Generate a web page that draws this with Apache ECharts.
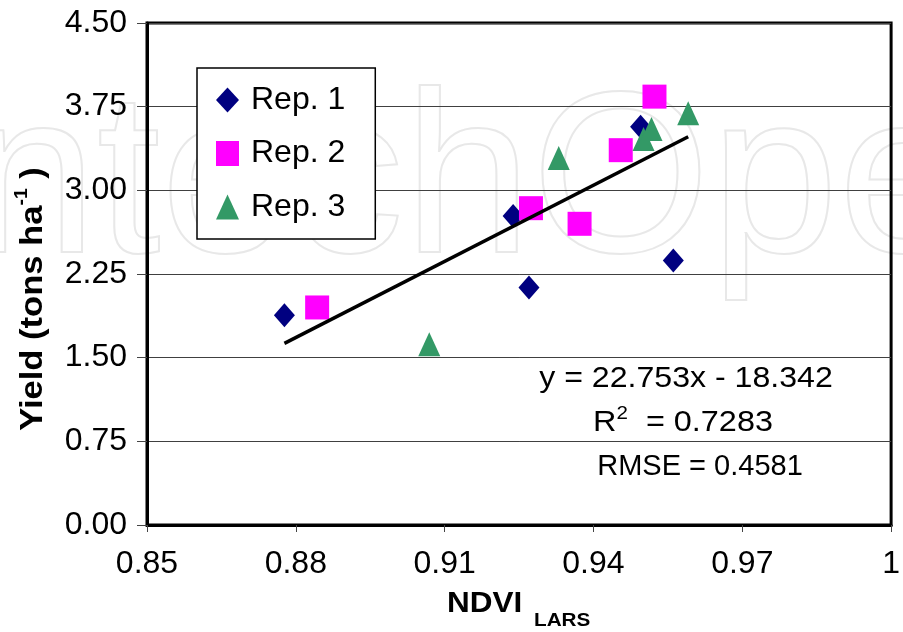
<!DOCTYPE html>
<html>
<head>
<meta charset="utf-8">
<script src="https://cdn.jsdelivr.net/npm/echarts@6/dist/echarts.min.js"></script>
<style>
html,body{margin:0;padding:0;background:#fff;}
#chart{width:903px;height:632px;}
</style>
</head>
<body>
<div id="chart"></div>
<script>
// ---- data ----
const rep1X = [0.8777, 0.9238, 0.9270, 0.9495, 0.9561];
const rep1Y = [1.88, 2.77, 2.13, 3.57, 2.37];
const rep2X = [0.8843, 0.9274, 0.9372, 0.9455, 0.9523];
const rep2Y = [1.95, 2.84, 2.70, 3.36, 3.84];
const rep3X = [0.9069, 0.9330, 0.9501, 0.9517, 0.9591];
const rep3Y = [1.62, 3.29, 3.46, 3.55, 3.69];
const seriesNames = ['Rep. 1', 'Rep. 2', 'Rep. 3'];
const fitSlope = 22.753;
const fitIntercept = -18.342;
const xTicks = [0.85, 0.88, 0.91, 0.94, 0.97, 1];
const yTicks = [0, 0.75, 1.5, 2.25, 3, 3.75, 4.5];
const eqText = 'y = 22.753x - 18.342';
const r2Value = '0.7283';
const rmseText = 'RMSE = 0.4581';
const watermarkText = 'IntechOpen';

const FONT = '"Liberation Sans", Arial, Helvetica, sans-serif';
const pair = (xs, ys) => xs.map((x, i) => [x, ys[i]]);
const allX = rep1X.concat(rep2X, rep3X);
const xMin = Math.min(...allX), xMax = Math.max(...allX);
const fitData = [[xMin, fitSlope * xMin + fitIntercept], [xMax, fitSlope * xMax + fitIntercept]];

const chart = echarts.init(document.getElementById('chart'), null, {renderer: 'canvas'});
chart.setOption({
  backgroundColor: '#ffffff',
  animation: false,
  textStyle: {fontFamily: FONT},
  grid: {left: 147, right: 4, top: 23, bottom: 107, show: true, borderColor: '#000', borderWidth: 3, backgroundColor: 'transparent'},
  legend: {
    orient: 'vertical', left: 197, top: 68,
    data: seriesNames,
    itemWidth: 23, itemHeight: 25, itemGap: 21.5,
    padding: [16, 30, 16, 19],
    backgroundColor: '#fff', borderColor: '#000', borderWidth: 1.5, borderRadius: 0,
    textStyle: {fontFamily: FONT, fontSize: 32, color: '#000', lineHeight: 25, padding: [0, 0, 0, 7]}
  },
  xAxis: {
    type: 'value', min: xTicks[0], max: xTicks[xTicks.length - 1],
    axisLine: {show: true, lineStyle: {color: '#000', width: 3}},
    axisTick: {show: true, length: 7, customValues: xTicks, lineStyle: {color: '#444', width: 1}},
    axisLabel: {customValues: xTicks, margin: 23, fontSize: 32, color: '#000', fontFamily: FONT,
      formatter: v => String(Number(v.toFixed(2)))},
    splitLine: {show: false}
  },
  yAxis: {
    type: 'value', min: yTicks[0], max: yTicks[yTicks.length - 1], interval: 0.75,
    axisLine: {show: true, lineStyle: {color: '#000', width: 3}},
    axisTick: {show: true, length: 10, lineStyle: {color: '#444', width: 1}},
    axisLabel: {margin: 20, fontSize: 32, color: '#000', fontFamily: FONT, formatter: v => v.toFixed(2)},
    splitLine: {show: true, lineStyle: {color: '#404040', width: 1}}
  },
  series: [
    {name: seriesNames[0], type: 'scatter', symbol: 'diamond', symbolSize: [21, 24], z: 3,
      itemStyle: {color: '#000080', opacity: 1}, data: pair(rep1X, rep1Y)},
    {name: seriesNames[1], type: 'scatter', symbol: 'rect', symbolSize: [24, 24], z: 3,
      itemStyle: {color: '#FF00FF', opacity: 1}, data: pair(rep2X, rep2Y)},
    {name: seriesNames[2], type: 'scatter', symbol: 'triangle', symbolSize: [22, 24], z: 3,
      itemStyle: {color: '#339966', opacity: 1}, data: pair(rep3X, rep3Y)},
    {name: 'fit', type: 'line', data: fitData, symbol: 'none', z: 4, silent: true,
      lineStyle: {color: '#000', width: 3.5}}
  ],
  graphic: [
    {type: 'text', silent: true, z: -1, zlevel: 0, x: -95, y: 304,
      style: {text: watermarkText, font: '230px ' + FONT, fill: 'none', stroke: '#e8e8e8', lineWidth: 2,
        align: 'left', verticalAlign: 'bottom', textAlign: 'left', textVerticalAlign: 'bottom'}},
    {type: 'text', silent: true, z: 10, x: 686, y: 379, scaleX: 1.07,
      style: {text: eqText, font: '30px ' + FONT, fill: '#000', align: 'center', verticalAlign: 'middle', textAlign: 'center', textVerticalAlign: 'middle'}},
    {type: 'text', silent: true, z: 10, x: 683, y: 421, scaleX: 1.08,
      style: {text: '{m|R}{s|2}{m|  = ' + r2Value + '}', align: 'center', verticalAlign: 'middle', textAlign: 'center', textVerticalAlign: 'middle',
        rich: {m: {fontSize: 30, fontFamily: FONT, fill: '#000', lineHeight: 34, verticalAlign: 'bottom'},
               s: {fontSize: 19, fontFamily: FONT, fill: '#000', lineHeight: 19, verticalAlign: 'top'}}}},
    {type: 'text', silent: true, z: 10, x: 700, y: 467,
      style: {text: rmseText, font: '29px ' + FONT, fill: '#000', align: 'center', verticalAlign: 'middle', textAlign: 'center', textVerticalAlign: 'middle'}},
    {type: 'text', silent: true, z: 10, x: 447, y: 604, scaleX: 1.05,
      style: {text: 'NDVI', font: 'bold 30px ' + FONT, fill: '#000', align: 'left', verticalAlign: 'middle', textAlign: 'left', textVerticalAlign: 'middle'}},
    {type: 'text', silent: true, z: 10, x: 534, y: 621, scaleX: 1.15,
      style: {text: 'LARS', font: 'bold 18px ' + FONT, fill: '#000', align: 'left', verticalAlign: 'middle', textAlign: 'left', textVerticalAlign: 'middle'}},
    {type: 'text', silent: true, z: 10, x: 31, y: 299, rotation: Math.PI / 2, scaleX: 1.08,
      style: {text: '{m|Yield (tons ha}{s|-1}{m| )}', align: 'center', verticalAlign: 'middle', textAlign: 'center', textVerticalAlign: 'middle',
        rich: {m: {fontSize: 32, fontWeight: 'bold', fontFamily: FONT, fill: '#000', lineHeight: 36, verticalAlign: 'bottom'},
               s: {fontSize: 18, fontWeight: 'bold', fontFamily: FONT, fill: '#000', lineHeight: 18, verticalAlign: 'top'}}}}
  ]
});
</script>
</body>
</html>
